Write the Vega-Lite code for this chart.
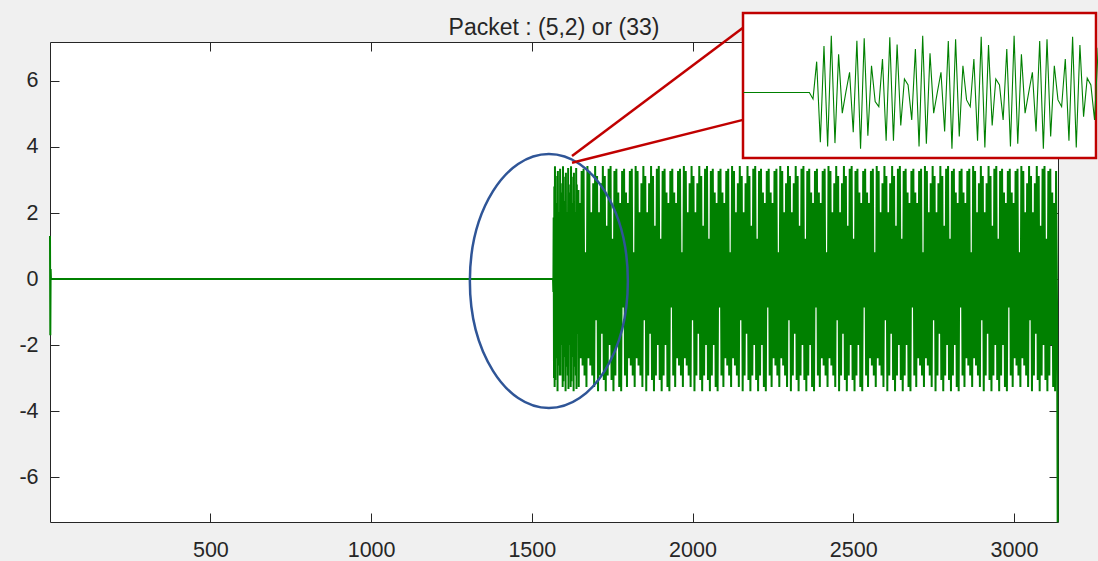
{
"$schema": "https://vega.github.io/schema/vega-lite/v6.json",
"width": 1008,
"height": 480,
"autosize": {"type": "none"},
"padding": {"left": 50, "top": 42, "right": 40, "bottom": 39},
"background": "#f0f0f0",
"config": {
  "view": {"fill": "white", "stroke": "#262626", "strokeWidth": 1},
  "axis": {"domain": false, "grid": false, "tickColor": "#262626", "tickWidth": 1, "tickSize": -9, "labelFont": "Liberation Sans", "labelFontSize": 21.5, "labelColor": "#262626", "title": null}
},
"title": {"text": "Packet : (5,2) or (33)", "font": "Liberation Sans", "fontSize": 23, "fontWeight": "normal", "color": "#262626", "anchor": "middle", "frame": "group", "offset": 10, "dy": 56, "baseline": "alphabetic"},
"datasets": {
  "ellipse": [{"n": 1553, "v": -0.06}],
  "links": [{"n": 1625, "v": 3.73, "n2": 2157, "v2": 7.61}, {"n": 1625, "v": 3.52, "n2": 2157, "v2": 4.82}],
  "box": [{"n": 1547.85, "n2": 1644.4, "v": -3.96, "v2": 4.8}],
  "sig": [
{"n":1,"v":1.3},{"n":2,"v":-1.7},{"n":3,"v":0.3},{"n":4,"v":0},{"n":1548,"v":0},{"n":1566,"v":0},
{"n":1567,"v":-0.39},{"n":1568,"v":1.86},{"n":1569,"v":-3.0},{"n":1570,"v":2.8},{"n":1571,"v":-3.27},
{"n":1572,"v":3.42},{"n":1573,"v":-3.06},{"n":1574,"v":2.3},{"n":1575,"v":-1.25},{"n":1576,"v":0.03},{"n":1577,"v":1.22},{"n":1578,"v":-2.4},{"n":1579,"v":3.12},{"n":1580,"v":-3.4},{"n":1581,"v":3.27},{"n":1582,"v":-2.62},{"n":1583,"v":1.61},{"n":1584,"v":-0.55},{"n":1585,"v":-0.86},{"n":1586,"v":2.02},{"n":1587,"v":-2.92},{"n":1588,"v":3.34},{"n":1589,"v":-2.92},{"n":1590,"v":2.9},{"n":1591,"v":-2.0},{"n":1592,"v":0.81},{"n":1593,"v":0.45},{"n":1594,"v":-1.66},{"n":1595,"v":2.62},{"n":1596,"v":-3.27},
{"n":1597,"v":3.42},{"n":1598,"v":-3.1},{"n":1599,"v":2.36},{"n":1600,"v":-1.25},{"n":1601,"v":0.0},{"n":1602,"v":1.22},{"n":1603,"v":-2.36},{"n":1604,"v":3.1},{"n":1605,"v":-3.4},{"n":1606,"v":3.22},{"n":1607,"v":-2.66},{"n":1608,"v":1.61},{"n":1609,"v":-0.45},{"n":1610,"v":-0.86},{"n":1611,"v":2.02},{"n":1612,"v":-2.92},{"n":1613,"v":3.36},{"n":1614,"v":-3.33},{"n":1615,"v":2.86},{"n":1616,"v":-2.0},{"n":1617,"v":0.81},{"n":1618,"v":0.45},{"n":1619,"v":-1.66},{"n":1620,"v":2.62},{"n":1621,"v":-3.27},
{"n":1622,"v":3.42},{"n":1623,"v":-3.1},{"n":1624,"v":2.3},{"n":1625,"v":-1.25},{"n":1626,"v":0.0},{"n":1627,"v":1.22},{"n":1628,"v":-2.36},{"n":1629,"v":3.1},{"n":1630,"v":-3.4},{"n":1631,"v":3.22},{"n":1632,"v":-2.66},{"n":1633,"v":1.61},{"n":1634,"v":-0.45},{"n":1635,"v":-0.86},{"n":1636,"v":2.02},{"n":1637,"v":-2.92},{"n":1638,"v":3.36},{"n":1639,"v":-3.33},{"n":1640,"v":2.86},{"n":1641,"v":-1.46},{"n":1642,"v":0.86},{"n":1643,"v":0.45},{"n":1644,"v":-1.66},{"n":1645,"v":2.7},{"n":1646,"v":-3.27},
{"n":1649,"v":2.3},{"n":1652,"v":-2.4},{"n":1655,"v":3.27},{"n":1658,"v":-2.62},{"n":1661,"v":3.34},{"n":1664,"v":-2.92},{"n":1667,"v":0.81},{"n":1670,"v":-3.27},{"n":1673,"v":3.42},{"n":1676,"v":-2.4},{"n":1679,"v":3.27},{"n":1682,"v":-2.62},{"n":1685,"v":2.02},{"n":1688,"v":-2.92},{"n":1691,"v":2.9},{"n":1694,"v":-3.27},{"n":1697,"v":3.42},{"n":1700,"v":-1.25},{"n":1703,"v":3.12},{"n":1706,"v":-3.4},{"n":1709,"v":2.02},{"n":1712,"v":-2.92},{"n":1715,"v":2.9},{"n":1718,"v":-1.66},{"n":1721,"v":3.42},{"n":1724,"v":-3.06},{"n":1727,"v":3.12},{"n":1730,"v":-3.4},{"n":1733,"v":1.61},{"n":1736,"v":-2.92},{"n":1739,"v":3.34},{"n":1742,"v":-2.0},{"n":1745,"v":3.42},{"n":1748,"v":-3.06},{"n":1751,"v":1.22},{"n":1754,"v":-3.4},{"n":1757,"v":3.27},{"n":1760,"v":-2.92},{"n":1763,"v":3.34},{"n":1766,"v":-2.0},{"n":1769,"v":2.62},{"n":1772,"v":-3.27},{"n":1775,"v":2.3},{"n":1778,"v":-3.4},{"n":1781,"v":3.27},{"n":1784,"v":-0.86},{"n":1787,"v":3.34},{"n":1790,"v":-2.92},{"n":1793,"v":2.62},{"n":1796,"v":-3.27},
{"n":1799,"v":2.3},{"n":1802,"v":-2.4},{"n":1805,"v":3.27},{"n":1808,"v":-2.62},{"n":1811,"v":3.34},{"n":1814,"v":-2.92},{"n":1817,"v":0.81},{"n":1820,"v":-3.27},{"n":1823,"v":3.42},{"n":1826,"v":-2.4},{"n":1829,"v":3.27},{"n":1832,"v":-2.62},{"n":1835,"v":2.02},{"n":1838,"v":-2.92},{"n":1841,"v":2.9},{"n":1844,"v":-3.27},{"n":1847,"v":3.42},{"n":1850,"v":-1.25},{"n":1853,"v":3.12},{"n":1856,"v":-3.4},{"n":1859,"v":2.02},{"n":1862,"v":-2.92},{"n":1865,"v":2.9},{"n":1868,"v":-1.66},{"n":1871,"v":3.42},{"n":1874,"v":-3.06},{"n":1877,"v":3.12},{"n":1880,"v":-3.4},{"n":1883,"v":1.61},{"n":1886,"v":-2.92},{"n":1889,"v":3.34},{"n":1892,"v":-2.0},{"n":1895,"v":3.42},{"n":1898,"v":-3.06},{"n":1901,"v":1.22},{"n":1904,"v":-3.4},{"n":1907,"v":3.27},{"n":1910,"v":-2.92},{"n":1913,"v":3.34},{"n":1916,"v":-2.0},{"n":1919,"v":2.62},{"n":1922,"v":-3.27},{"n":1925,"v":2.3},{"n":1928,"v":-3.4},{"n":1931,"v":3.27},{"n":1934,"v":-0.86},{"n":1937,"v":3.34},{"n":1940,"v":-2.92},{"n":1943,"v":2.62},{"n":1946,"v":-3.27},
{"n":1949,"v":2.3},{"n":1952,"v":-2.4},{"n":1955,"v":3.27},{"n":1958,"v":-2.62},{"n":1961,"v":3.34},{"n":1964,"v":-2.92},{"n":1967,"v":0.81},{"n":1970,"v":-3.27},{"n":1973,"v":3.42},{"n":1976,"v":-2.4},{"n":1979,"v":3.27},{"n":1982,"v":-2.62},{"n":1985,"v":2.02},{"n":1988,"v":-2.92},{"n":1991,"v":2.9},{"n":1994,"v":-3.27},{"n":1997,"v":3.42},{"n":2000,"v":-1.25},{"n":2003,"v":3.12},{"n":2006,"v":-3.4},{"n":2009,"v":2.02},{"n":2012,"v":-2.92},{"n":2015,"v":2.9},{"n":2018,"v":-1.66},{"n":2021,"v":3.42},{"n":2024,"v":-3.06},{"n":2027,"v":3.12},{"n":2030,"v":-3.4},{"n":2033,"v":1.61},{"n":2036,"v":-2.92},{"n":2039,"v":3.34},{"n":2042,"v":-2.0},{"n":2045,"v":3.42},{"n":2048,"v":-3.06},{"n":2051,"v":1.22},{"n":2054,"v":-3.4},{"n":2057,"v":3.27},{"n":2060,"v":-2.92},{"n":2063,"v":3.34},{"n":2066,"v":-2.0},{"n":2069,"v":2.62},{"n":2072,"v":-3.27},{"n":2075,"v":2.3},{"n":2078,"v":-3.4},{"n":2081,"v":3.27},{"n":2084,"v":-0.86},{"n":2087,"v":3.34},{"n":2090,"v":-2.92},{"n":2093,"v":2.62},{"n":2096,"v":-3.27},
{"n":2099,"v":2.3},{"n":2102,"v":-2.4},{"n":2105,"v":3.27},{"n":2108,"v":-2.62},{"n":2111,"v":3.34},{"n":2114,"v":-2.92},{"n":2117,"v":0.81},{"n":2120,"v":-3.27},{"n":2123,"v":3.42},{"n":2126,"v":-2.4},{"n":2129,"v":3.27},{"n":2132,"v":-2.62},{"n":2135,"v":2.02},{"n":2138,"v":-2.92},{"n":2141,"v":2.9},{"n":2144,"v":-3.27},{"n":2147,"v":3.42},{"n":2150,"v":-1.25},{"n":2153,"v":3.12},{"n":2156,"v":-3.4},{"n":2159,"v":2.02},{"n":2162,"v":-2.92},{"n":2165,"v":2.9},{"n":2168,"v":-1.66},{"n":2171,"v":3.42},{"n":2174,"v":-3.06},{"n":2177,"v":3.12},{"n":2180,"v":-3.4},{"n":2183,"v":1.61},{"n":2186,"v":-2.92},{"n":2189,"v":3.34},{"n":2192,"v":-2.0},{"n":2195,"v":3.42},{"n":2198,"v":-3.06},{"n":2201,"v":1.22},{"n":2204,"v":-3.4},{"n":2207,"v":3.27},{"n":2210,"v":-2.92},{"n":2213,"v":3.34},{"n":2216,"v":-2.0},{"n":2219,"v":2.62},{"n":2222,"v":-3.27},{"n":2225,"v":2.3},{"n":2228,"v":-3.4},{"n":2231,"v":3.27},{"n":2234,"v":-0.86},{"n":2237,"v":3.34},{"n":2240,"v":-2.92},{"n":2243,"v":2.62},{"n":2246,"v":-3.27},
{"n":2249,"v":2.3},{"n":2252,"v":-2.4},{"n":2255,"v":3.27},{"n":2258,"v":-2.62},{"n":2261,"v":3.34},{"n":2264,"v":-2.92},{"n":2267,"v":0.81},{"n":2270,"v":-3.27},{"n":2273,"v":3.42},{"n":2276,"v":-2.4},{"n":2279,"v":3.27},{"n":2282,"v":-2.62},{"n":2285,"v":2.02},{"n":2288,"v":-2.92},{"n":2291,"v":2.9},{"n":2294,"v":-3.27},{"n":2297,"v":3.42},{"n":2300,"v":-1.25},{"n":2303,"v":3.12},{"n":2306,"v":-3.4},{"n":2309,"v":2.02},{"n":2312,"v":-2.92},{"n":2315,"v":2.9},{"n":2318,"v":-1.66},{"n":2321,"v":3.42},{"n":2324,"v":-3.06},{"n":2327,"v":3.12},{"n":2330,"v":-3.4},{"n":2333,"v":1.61},{"n":2336,"v":-2.92},{"n":2339,"v":3.34},{"n":2342,"v":-2.0},{"n":2345,"v":3.42},{"n":2348,"v":-3.06},{"n":2351,"v":1.22},{"n":2354,"v":-3.4},{"n":2357,"v":3.27},{"n":2360,"v":-2.92},{"n":2363,"v":3.34},{"n":2366,"v":-2.0},{"n":2369,"v":2.62},{"n":2372,"v":-3.27},{"n":2375,"v":2.3},{"n":2378,"v":-3.4},{"n":2381,"v":3.27},{"n":2384,"v":-0.86},{"n":2387,"v":3.34},{"n":2390,"v":-2.92},{"n":2393,"v":2.62},{"n":2396,"v":-3.27},
{"n":2399,"v":2.3},{"n":2402,"v":-2.4},{"n":2405,"v":3.27},{"n":2408,"v":-2.62},{"n":2411,"v":3.34},{"n":2414,"v":-2.92},{"n":2417,"v":0.81},{"n":2420,"v":-3.27},{"n":2423,"v":3.42},{"n":2426,"v":-2.4},{"n":2429,"v":3.27},{"n":2432,"v":-2.62},{"n":2435,"v":2.02},{"n":2438,"v":-2.92},{"n":2441,"v":2.9},{"n":2444,"v":-3.27},{"n":2447,"v":3.42},{"n":2450,"v":-1.25},{"n":2453,"v":3.12},{"n":2456,"v":-3.4},{"n":2459,"v":2.02},{"n":2462,"v":-2.92},{"n":2465,"v":2.9},{"n":2468,"v":-1.66},{"n":2471,"v":3.42},{"n":2474,"v":-3.06},{"n":2477,"v":3.12},{"n":2480,"v":-3.4},{"n":2483,"v":1.61},{"n":2486,"v":-2.92},{"n":2489,"v":3.34},{"n":2492,"v":-2.0},{"n":2495,"v":3.42},{"n":2498,"v":-3.06},{"n":2501,"v":1.22},{"n":2504,"v":-3.4},{"n":2507,"v":3.27},{"n":2510,"v":-2.92},{"n":2513,"v":3.34},{"n":2516,"v":-2.0},{"n":2519,"v":2.62},{"n":2522,"v":-3.27},{"n":2525,"v":2.3},{"n":2528,"v":-3.4},{"n":2531,"v":3.27},{"n":2534,"v":-0.86},{"n":2537,"v":3.34},{"n":2540,"v":-2.92},{"n":2543,"v":2.62},{"n":2546,"v":-3.27},
{"n":2549,"v":2.3},{"n":2552,"v":-2.4},{"n":2555,"v":3.27},{"n":2558,"v":-2.62},{"n":2561,"v":3.34},{"n":2564,"v":-2.92},{"n":2567,"v":0.81},{"n":2570,"v":-3.27},{"n":2573,"v":3.42},{"n":2576,"v":-2.4},{"n":2579,"v":3.27},{"n":2582,"v":-2.62},{"n":2585,"v":2.02},{"n":2588,"v":-2.92},{"n":2591,"v":2.9},{"n":2594,"v":-3.27},{"n":2597,"v":3.42},{"n":2600,"v":-1.25},{"n":2603,"v":3.12},{"n":2606,"v":-3.4},{"n":2609,"v":2.02},{"n":2612,"v":-2.92},{"n":2615,"v":2.9},{"n":2618,"v":-1.66},{"n":2621,"v":3.42},{"n":2624,"v":-3.06},{"n":2627,"v":3.12},{"n":2630,"v":-3.4},{"n":2633,"v":1.61},{"n":2636,"v":-2.92},{"n":2639,"v":3.34},{"n":2642,"v":-2.0},{"n":2645,"v":3.42},{"n":2648,"v":-3.06},{"n":2651,"v":1.22},{"n":2654,"v":-3.4},{"n":2657,"v":3.27},{"n":2660,"v":-2.92},{"n":2663,"v":3.34},{"n":2666,"v":-2.0},{"n":2669,"v":2.62},{"n":2672,"v":-3.27},{"n":2675,"v":2.3},{"n":2678,"v":-3.4},{"n":2681,"v":3.27},{"n":2684,"v":-0.86},{"n":2687,"v":3.34},{"n":2690,"v":-2.92},{"n":2693,"v":2.62},{"n":2696,"v":-3.27},
{"n":2699,"v":2.3},{"n":2702,"v":-2.4},{"n":2705,"v":3.27},{"n":2708,"v":-2.62},{"n":2711,"v":3.34},{"n":2714,"v":-2.92},{"n":2717,"v":0.81},{"n":2720,"v":-3.27},{"n":2723,"v":3.42},{"n":2726,"v":-2.4},{"n":2729,"v":3.27},{"n":2732,"v":-2.62},{"n":2735,"v":2.02},{"n":2738,"v":-2.92},{"n":2741,"v":2.9},{"n":2744,"v":-3.27},{"n":2747,"v":3.42},{"n":2750,"v":-1.25},{"n":2753,"v":3.12},{"n":2756,"v":-3.4},{"n":2759,"v":2.02},{"n":2762,"v":-2.92},{"n":2765,"v":2.9},{"n":2768,"v":-1.66},{"n":2771,"v":3.42},{"n":2774,"v":-3.06},{"n":2777,"v":3.12},{"n":2780,"v":-3.4},{"n":2783,"v":1.61},{"n":2786,"v":-2.92},{"n":2789,"v":3.34},{"n":2792,"v":-2.0},{"n":2795,"v":3.42},{"n":2798,"v":-3.06},{"n":2801,"v":1.22},{"n":2804,"v":-3.4},{"n":2807,"v":3.27},{"n":2810,"v":-2.92},{"n":2813,"v":3.34},{"n":2816,"v":-2.0},{"n":2819,"v":2.62},{"n":2822,"v":-3.27},{"n":2825,"v":2.3},{"n":2828,"v":-3.4},{"n":2831,"v":3.27},{"n":2834,"v":-0.86},{"n":2837,"v":3.34},{"n":2840,"v":-2.92},{"n":2843,"v":2.62},{"n":2846,"v":-3.27},
{"n":2849,"v":2.3},{"n":2852,"v":-2.4},{"n":2855,"v":3.27},{"n":2858,"v":-2.62},{"n":2861,"v":3.34},{"n":2864,"v":-2.92},{"n":2867,"v":0.81},{"n":2870,"v":-3.27},{"n":2873,"v":3.42},{"n":2876,"v":-2.4},{"n":2879,"v":3.27},{"n":2882,"v":-2.62},{"n":2885,"v":2.02},{"n":2888,"v":-2.92},{"n":2891,"v":2.9},{"n":2894,"v":-3.27},{"n":2897,"v":3.42},{"n":2900,"v":-1.25},{"n":2903,"v":3.12},{"n":2906,"v":-3.4},{"n":2909,"v":2.02},{"n":2912,"v":-2.92},{"n":2915,"v":2.9},{"n":2918,"v":-1.66},{"n":2921,"v":3.42},{"n":2924,"v":-3.06},{"n":2927,"v":3.12},{"n":2930,"v":-3.4},{"n":2933,"v":1.61},{"n":2936,"v":-2.92},{"n":2939,"v":3.34},{"n":2942,"v":-2.0},{"n":2945,"v":3.42},{"n":2948,"v":-3.06},{"n":2951,"v":1.22},{"n":2954,"v":-3.4},{"n":2957,"v":3.27},{"n":2960,"v":-2.92},{"n":2963,"v":3.34},{"n":2966,"v":-2.0},{"n":2969,"v":2.62},{"n":2972,"v":-3.27},{"n":2975,"v":2.3},{"n":2978,"v":-3.4},{"n":2981,"v":3.27},{"n":2984,"v":-0.86},{"n":2987,"v":3.34},{"n":2990,"v":-2.92},{"n":2993,"v":2.62},{"n":2996,"v":-3.27},
{"n":2999,"v":2.3},{"n":3002,"v":-2.4},{"n":3005,"v":3.27},{"n":3008,"v":-2.62},{"n":3011,"v":3.34},{"n":3014,"v":-2.92},{"n":3017,"v":0.81},{"n":3020,"v":-3.27},{"n":3023,"v":3.42},{"n":3026,"v":-2.4},{"n":3029,"v":3.27},{"n":3032,"v":-2.62},{"n":3035,"v":2.02},{"n":3038,"v":-2.92},{"n":3041,"v":2.9},{"n":3044,"v":-3.27},{"n":3047,"v":3.42},{"n":3050,"v":-1.25},{"n":3053,"v":3.12},{"n":3056,"v":-3.4},{"n":3059,"v":2.02},{"n":3062,"v":-2.92},{"n":3065,"v":2.9},{"n":3068,"v":-1.66},{"n":3071,"v":3.42},{"n":3074,"v":-3.06},{"n":3077,"v":3.12},{"n":3080,"v":-3.4},{"n":3083,"v":1.61},{"n":3086,"v":-2.92},{"n":3089,"v":3.34},{"n":3092,"v":-2.0},{"n":3095,"v":3.42},{"n":3098,"v":-3.06},{"n":3101,"v":1.22},{"n":3104,"v":-3.4},{"n":3107,"v":3.27},{"n":3110,"v":-2.92},{"n":3113,"v":3.34},{"n":3116,"v":-2.0},{"n":3119,"v":2.62},{"n":3122,"v":-3.27},{"n":3125,"v":2.3},{"n":3128,"v":-3.4},{"n":3131,"v":3.27},{"n":3134,"v":-0.86},
{"n":3136,"v":-7.37}
  ]
},
"layer": [
  {
    "layer": [
      {
        "data": {"name": "sig"},
        "mark": {"type": "line", "color": "#008000", "strokeWidth": 2},
        "encoding": {
          "x": {"field": "n", "type": "quantitative", "scale": {"domain": [1, 3137], "nice": false, "zero": false}, "axis": {"orient": "bottom", "values": [500, 1000, 1500, 2000, 2500, 3000], "format": "d", "labelPadding": 26}},
          "y": {"field": "v", "type": "quantitative", "scale": {"domain": [-7.36, 7.18], "nice": false, "zero": false}, "axis": {"orient": "left", "values": [-6, -4, -2, 0, 2, 4, 6], "labelExpr": "datum.value < 0 ? '-' + abs(datum.value) : '' + datum.value", "labelPadding": 21}}
        }
      },
      {
        "data": {"name": "ellipse"},
        "mark": {"type": "point", "shape": "M 0.622 0 C 0.622 0.5523 0.3435 1 0 1 C -0.3435 1 -0.622 0.5523 -0.622 0 C -0.622 -0.5523 -0.3435 -1 0 -1 C 0.3435 -1 0.622 -0.5523 0.622 0 Z", "size": 64516, "filled": false, "stroke": "#2f5597", "strokeWidth": 2.5, "opacity": 1},
        "encoding": {
          "x": {"field": "n", "type": "quantitative", "scale": {"domain": [1, 3137], "nice": false, "zero": false}, "axis": {"orient": "top", "labels": false, "values": [500, 1000, 1500, 2000, 2500, 3000]}},
          "y": {"field": "v", "type": "quantitative", "scale": {"domain": [-7.36, 7.18], "nice": false, "zero": false}, "axis": {"orient": "right", "labels": false, "values": [-6, -4, -2, 0, 2, 4, 6]}}
        }
      },
      {
        "data": {"name": "links"},
        "mark": {"type": "rule", "color": "#c00000", "strokeWidth": 2.5},
        "encoding": {
          "x": {"field": "n", "type": "quantitative", "scale": {"domain": [1, 3137], "nice": false, "zero": false}, "axis": null},
          "y": {"field": "v", "type": "quantitative", "scale": {"domain": [-7.36, 7.18], "nice": false, "zero": false}, "axis": null},
          "x2": {"field": "n2"},
          "y2": {"field": "v2"}
        }
      }
    ],
    "resolve": {"axis": {"x": "independent", "y": "independent"}}
  },
  {
    "layer": [
      {
        "data": {"name": "box"},
        "mark": {"type": "rect", "fill": "white", "stroke": "#c00000", "strokeWidth": 2.5},
        "encoding": {
          "x": {"field": "n", "type": "quantitative", "scale": {"domain": [1547.85, 1644.4], "range": [693, 1046], "nice": false, "zero": false}, "axis": null},
          "x2": {"field": "n2"},
          "y": {"field": "v", "type": "quantitative", "scale": {"domain": [-3.96, 4.8], "range": [116, -29], "nice": false, "zero": false}, "axis": null},
          "y2": {"field": "v2"}
        }
      },
      {
        "data": {"name": "sig"},
        "transform": [{"filter": "datum.n >= 1548 && datum.n <= 1645"}],
        "mark": {"type": "line", "color": "#008000", "strokeWidth": 1.1},
        "encoding": {
          "x": {"field": "n", "type": "quantitative", "scale": {"domain": [1547.85, 1644.4], "range": [693, 1046], "nice": false, "zero": false}, "axis": null},
          "y": {"field": "v", "type": "quantitative", "scale": {"domain": [-3.96, 4.8], "range": [116, -29], "nice": false, "zero": false}, "axis": null}
        }
      }
    ]
  }
],
"resolve": {"scale": {"x": "independent", "y": "independent"}}
}
